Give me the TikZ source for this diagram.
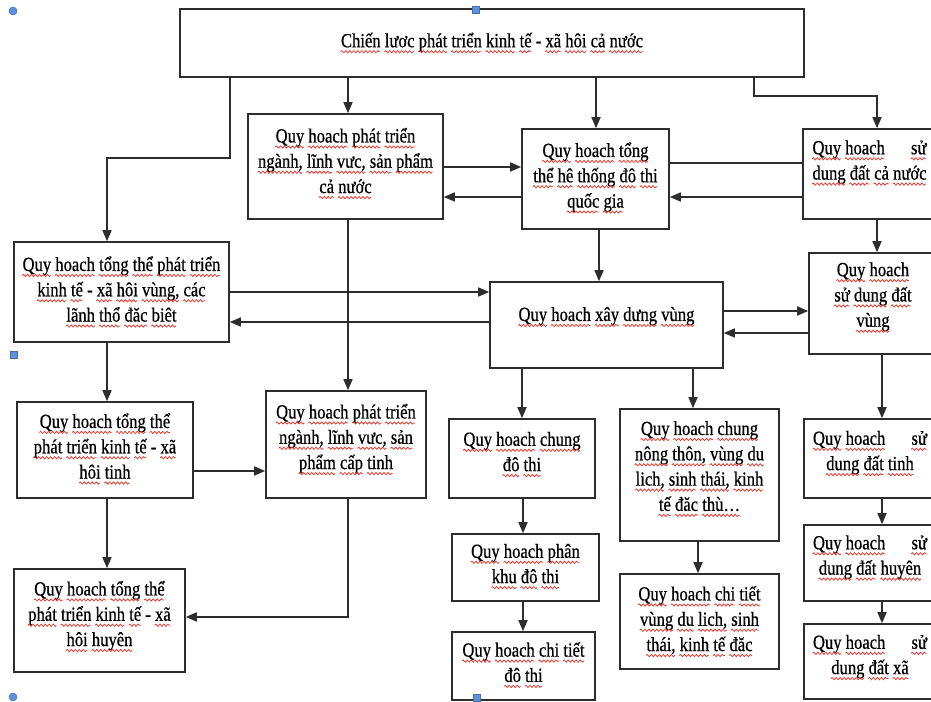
\documentclass[tikz,border=0pt]{standalone}
\usepackage{fontspec}
\setmainfont{Liberation Serif}[FakeStretch=0.83,FakeBold=0.6]
\usetikzlibrary{arrows.meta,calc,decorations.pathmorphing}

\definecolor{wavered}{RGB}{232,60,50}
\definecolor{edge}{RGB}{45,45,45}
\definecolor{handle}{RGB}{95,145,220}

% red wavy underline, one per word
\newsavebox\wvbox
\newcommand\redwave[1]{\sbox\wvbox{#1}\usebox\wvbox\llap{\tikz[baseline=0pt,x=1pt,y=1pt]
  \draw[wavered, line width=0.8pt, decorate,
        decoration={snake, amplitude=1.1pt, segment length=4pt}]
  (0pt,-4.5pt) -- (\the\wd\wvbox,-4.5pt);}}
\def\wvEnd{}
\def\wv#1{\wvA#1 \wvEnd}
\def\wvA#1 #2\wvEnd{\redwave{#1}\ifx\wvEnd#2\wvEnd\else\ \wvA#2\wvEnd\fi}
% first line spread over the full text width
\newcommand\spreadline{\hbox to 114pt{\wv{Quy hoach}\hfill\wv{sử}}}

\newcommand\mkbox[5]{%
  \node[box, minimum width={(#4)-(#2)}, minimum height={(#5)-(#3)}]
    (#1) at ({((#2)+(#4))/2},{((#3)+(#5))/2}) {};}

\begin{document}
\begin{tikzpicture}[x=1pt,y=-1pt,
  box/.style={draw=edge, line width=1.6pt, fill=white, rectangle, inner sep=0pt},
  txt/.style={font=\fontsize{20}{25.3}\selectfont, align=center, inner sep=0pt},
  conn/.style={draw=edge, line width=1.6pt},
  arr/.style={conn, -{Triangle[length=11pt,width=9pt]}},
  hdot/.style={circle, fill=handle, draw=handle!75!black, line width=0.5pt, minimum size=8pt, inner sep=0pt},
  hsq/.style={rectangle, fill=handle, draw=handle!75!black, line width=0.5pt, minimum size=7pt, inner sep=0pt}]
\useasboundingbox (0,0) rectangle (931,701);
\clip (0,0) rectangle (931,701);
\fill[white] (0,0) rectangle (931,701);

% boxes: name, left, top, right, bottom
\mkbox{top}{180}{9}{804}{77}
\mkbox{nganh}{248}{114}{443}{219}
\mkbox{dtqg}{522}{129}{669}{229}
\mkbox{sddcn}{803}{129}{936}{219}
\mkbox{vung}{14}{242}{229}{342}
\mkbox{xdv}{490}{282}{723}{368}
\mkbox{sddvung}{809}{253}{937}{354}
\mkbox{tinh}{17}{402}{193}{498}
\mkbox{captinh}{266}{391}{426}{498}
\mkbox{chungdt}{449}{419}{595}{498}
\mkbox{nongthon}{620}{409}{779}{541}
\mkbox{sddtinh}{804}{419}{936}{498}
\mkbox{phankhu}{452}{534}{599}{601}
\mkbox{ctdt}{452}{632}{595}{700}
\mkbox{ctvung}{620}{574}{779}{669}
\mkbox{sddhuyen}{804}{525}{936}{601}
\mkbox{sddxa}{804}{624}{936}{699}
\mkbox{huyen}{14}{569}{185}{672}

% texts
\node[txt] (top-t) at (top.center) {\wv{Chiến lươc phát triển kinh tế} - \wv{xã hôi cả nước}};
\node[txt] (nganh-t) at ($(nganh.center)+(0,-3)$) {\wv{Quy hoach phát triển}\\\wv{ngành, lĩnh vưc, sản phẩm}\\\wv{cả nước}};
\node[txt] (dtqg-t) at ($(dtqg.center)+(0,-1)$) {\wv{Quy hoach tổng}\\\wv{thể hê thống đô thi}\\\wv{quốc gia}};
\node[txt] (sddcn-t) at ($(sddcn.center)+(0,-11)$) {\spreadline\\\wv{dung đất cả nước}};
\node[txt] (vung-t) at (vung.center) {\wv{Quy hoach tổng thể phát triển}\\\wv{kinh tế} - \wv{xã hôi vùng, các}\\\wv{lãnh thổ đăc biêt}};
\node[txt] (xdv-t) at ($(xdv.center)+(0,-8)$) {\wv{Quy hoach xây dưng vùng}};
\node[txt] (sddvung-t) at ($(sddvung.center)+(0,-6)$) {\wv{Quy hoach}\\\wv{sử dung đất}\\\wv{vùng}};
\node[txt] (tinh-t) at ($(tinh.center)+(0,-1)$) {\wv{Quy hoach tổng thể}\\\wv{phát triển kinh tế} - \wv{xã}\\\wv{hôi tinh}};
\node[txt] (captinh-t) at ($(captinh.center)+(0,-5)$) {\wv{Quy hoach phát triển}\\\wv{ngành, lĩnh vưc, sản}\\\wv{phẩm cấp tinh}};
\node[txt] (chungdt-t) at ($(chungdt.center)+(0,-4)$) {\wv{Quy hoach chung}\\\wv{đô thi}};
\node[txt] (nongthon-t) at ($(nongthon.center)+(0,-6)$) {\wv{Quy hoach chung}\\\wv{nông thôn, vùng du}\\\wv{lich, sinh thái, kinh}\\\wv{tế đăc thù…}};
\node[txt] (sddtinh-t) at ($(sddtinh.center)+(0,-5)$) {\spreadline\\\wv{dung đất tinh}};
\node[txt] (phankhu-t) at ($(phankhu.center)+(0,-1)$) {\wv{Quy hoach phân}\\\wv{khu đô thi}};
\node[txt] (ctdt-t) at ($(ctdt.center)+(0,-1)$) {\wv{Quy hoach chi tiết}\\\wv{đô thi}};
\node[txt] (ctvung-t) at (ctvung.center) {\wv{Quy hoach chi tiết}\\\wv{vùng du lich, sinh}\\\wv{thái, kinh tế đăc}};
\node[txt] (sddhuyen-t) at ($(sddhuyen.center)+(0,-5)$) {\spreadline\\\wv{dung đất huyên}};
\node[txt] (sddxa-t) at ($(sddxa.center)+(0,-4)$) {\spreadline\\\wv{dung đất xã}};
\node[txt] (huyen-t) at ($(huyen.center)+(0,-4)$) {\wv{Quy hoach tổng thể}\\\wv{phát triển kinh tế} - \wv{xã}\\\wv{hôi huyên}};

% connector columns and rows
\coordinate (xA) at (107,0);
\coordinate (xB) at (348,0);
\coordinate (xE) at (754,0);
\coordinate (xT) at (596,0);
\coordinate (xR1) at (877,0);
\coordinate (xR2) at (882,0);
\coordinate (xX) at (599,0);
\coordinate (xN1) at (693,0);
\coordinate (xN2) at (698,0);
\coordinate (xD) at (523,0);
\coordinate (y163) at (0,163);
\coordinate (y167) at (0,167);
\coordinate (y197) at (0,197);
\coordinate (y292) at (0,292);
\coordinate (y322) at (0,322);
\coordinate (y311) at (0,311);
\coordinate (y333) at (0,333);
\coordinate (y471) at (0,471);
\coordinate (y617) at (0,617);

% connectors
\draw[arr] (top.south -| vung.north east) -- ++(0,80) -| (vung.north -| xA);
\draw[arr] (top.south -| xB) -- (nganh.north -| xB);
\draw[arr] (top.south -| xT) -- (dtqg.north -| xT);
\draw[arr] (top.south -| xE) -- ++(0,18) -| (sddcn.north -| xR1);
\draw[arr] (nganh.east |- y167) -- (dtqg.west |- y167);
\draw[arr] (dtqg.west |- y197) -- (nganh.east |- y197);
\draw[conn] (dtqg.east |- y163) -- (sddcn.west |- y163);
\draw[arr] (sddcn.west |- y197) -- (dtqg.east |- y197);
\draw[arr] (dtqg.south -| xX) -- (xdv.north -| xX);
\draw[arr] (vung.east |- y292) -- (xdv.west |- y292);
\draw[arr] (xdv.west |- y322) -- (vung.east |- y322);
\draw[arr] (sddcn.south -| xR1) -- (sddvung.north -| xR1);
\draw[arr] (xdv.east |- y311) -- (sddvung.west |- y311);
\draw[arr] (sddvung.west |- y333) -- (xdv.east |- y333);
\draw[arr] (nganh.south -| xB) -- (captinh.north -| xB);
\draw[arr] (vung.south -| xA) -- (tinh.north -| xA);
\draw[arr] (tinh.east |- y471) -- (captinh.west |- y471);
\draw[arr] (tinh.south -| xA) -- (huyen.north -| xA);
\draw[arr] (captinh.south -| xB) |- (huyen.east |- y617);
\draw[arr] (xdv.south -| chungdt.north) -- (chungdt.north);
\draw[arr] (xdv.south -| xN1) -- (nongthon.north -| xN1);
\draw[arr] (nongthon.south -| xN2) -- (ctvung.north -| xN2);
\draw[arr] (sddvung.south -| xR2) -- (sddtinh.north -| xR2);
\draw[arr] (chungdt.south -| xD) -- (phankhu.north -| xD);
\draw[arr] (phankhu.south -| xD) -- (ctdt.north -| xD);
\draw[arr] (sddtinh.south -| xR2) -- (sddhuyen.north -| xR2);
\draw[arr] (sddhuyen.south -| xR2) -- (sddxa.north -| xR2);

% selection handles
\node[hdot] (h1) at (13,11) {};
\node[hsq] (h2) at (476,10) {};
\node[hsq] (h3) at (14,355) {};
\node[hdot] (h4) at (13,697) {};
\node[hsq] (h5) at (477,698) {};
\end{tikzpicture}
\end{document}
